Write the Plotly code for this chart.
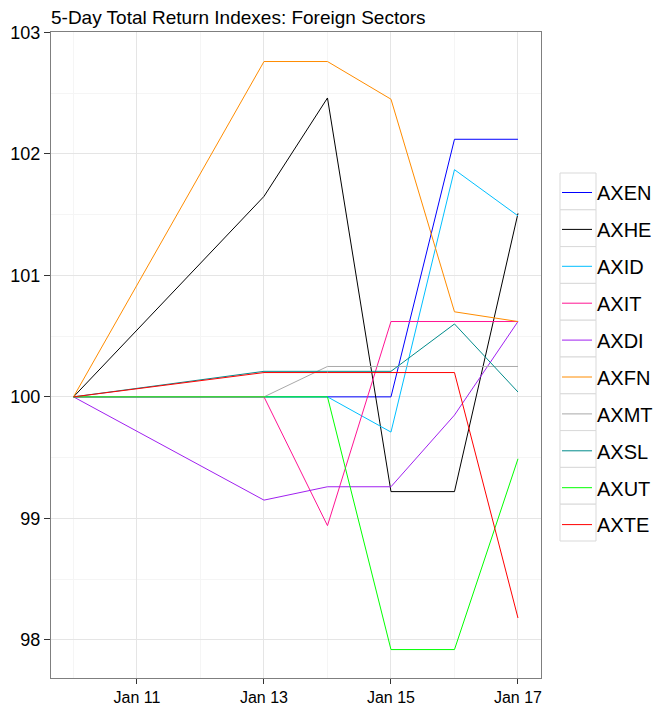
import plotly.graph_objects as go

dates = ["2014-01-10", "2014-01-13", "2014-01-14", "2014-01-15", "2014-01-16", "2014-01-17"]

AXEN = [100, 100, 100, 100, 102.12, 102.12]
AXHE = [100, 101.65, 102.46, 99.22, 99.22, 101.51]
AXID = [100, 100, 100, 99.71, 101.87, 101.49]
AXIT = [100, 100, 98.94, 100.62, 100.62, 100.62]
AXDI = [100, 99.15, 99.26, 99.26, 99.85, 100.62]
AXFN = [100, 102.76, 102.76, 102.45, 100.70, 100.62]
AXMT = [100, 100, 100.25, 100.25, 100.25, 100.25]
AXSL = [100, 100.21, 100.21, 100.21, 100.60, 100.04]
AXUT = [100, 100, 100, 97.92, 97.92, 99.49]
AXTE = [100, 100.20, 100.20, 100.20, 100.20, 98.18]

series = [
    ("AXEN", AXEN, "#0000FF"),
    ("AXHE", AXHE, "#000000"),
    ("AXID", AXID, "#00BFFF"),
    ("AXIT", AXIT, "#FF1493"),
    ("AXDI", AXDI, "#A020F0"),
    ("AXFN", AXFN, "#FF8C00"),
    ("AXMT", AXMT, "#A9A9A9"),
    ("AXSL", AXSL, "#008B8B"),
    ("AXUT", AXUT, "#00FF00"),
    ("AXTE", AXTE, "#FF0000"),
]

y_ticks = [98, 99, 100, 101, 102, 103]
x_ticks = ["2014-01-11", "2014-01-13", "2014-01-15", "2014-01-17"]
x_ticklabels = ["Jan 11", "Jan 13", "Jan 15", "Jan 17"]

fig = go.Figure()
for name, vals, col in series:
    fig.add_trace(go.Scatter(x=dates, y=vals, mode="lines", name=name,
                             legendgroup=name,
                             line=dict(color=col, width=1)))

W, H = 655, 710
ml, mr, mt, mb = 51, 114, 32, 32
pw = W - ml - mr
ph = H - mt - mb

# legend key boxes (ggplot style)
box_left, box_right, box_top, key_h = 560, 596, 173, 36.8
shapes = []
for i in range(len(series)):
    top = box_top + i * key_h
    shapes.append(dict(
        type="rect", xref="paper", yref="paper", layer="below",
        x0=(box_left - ml) / pw, x1=(box_right - ml) / pw,
        y0=(H - mb - (top + key_h)) / ph, y1=(H - mb - top) / ph,
        line=dict(color="#d9d9d9", width=1), fillcolor="white"))

fig.update_layout(
    width=W, height=H,
    margin=dict(l=ml, r=mr, t=mt, b=mb),
    paper_bgcolor="white", plot_bgcolor="white",
    font=dict(family="Liberation Sans, Arial, sans-serif", color="#000000"),
    title=dict(text="5-Day Total Return Indexes: Foreign Sectors",
               x=ml / W, xanchor="left", xref="container",
               y=1 - 17 / H, yanchor="middle", yref="container",
               font=dict(size=19, color="#000000")),
    showlegend=True,
    legend=dict(x=557 / W, xanchor="left", xref="container",
                y=1 - 173 / H, yanchor="top", yref="container",
                font=dict(size=20, color="#000000"),
                bgcolor="rgba(0,0,0,0)", borderwidth=0,
                tracegroupgap=7.9, itemwidth=30, maxheight=600),
    shapes=shapes,
    xaxis=dict(type="date",
               range=["2014-01-09 15:30", "2014-01-17 08:42"],
               tickvals=x_ticks, ticktext=x_ticklabels,
               tickfont=dict(size=16, color="#000000"),
               ticks="outside", ticklen=5, tickcolor="#333333",
               showgrid=True, gridcolor="#e5e5e5", gridwidth=1,
               minor=dict(dtick=86400000, tick0="2014-01-10",
                          showgrid=True, gridcolor="#f5f5f5", gridwidth=1, ticks=""),
               showline=True, linecolor="#7f7f7f", linewidth=1, mirror=True,
               zeroline=False, automargin=False),
    yaxis=dict(range=[97.686, 103.003],
               tickvals=y_ticks, ticktext=[str(v) for v in y_ticks],
               tickfont=dict(size=18, color="#000000"),
               ticks="outside", ticklen=6, tickcolor="#333333",
               showgrid=True, gridcolor="#e5e5e5", gridwidth=1,
               minor=dict(dtick=0.5, tick0=97.5,
                          showgrid=True, gridcolor="#f5f5f5", gridwidth=1, ticks=""),
               showline=True, linecolor="#7f7f7f", linewidth=1, mirror=True,
               zeroline=False, automargin=False),
)

fig.write_html("out.html", config={"displayModeBar": False},
               post_script="document.body.style.margin='0px';")
